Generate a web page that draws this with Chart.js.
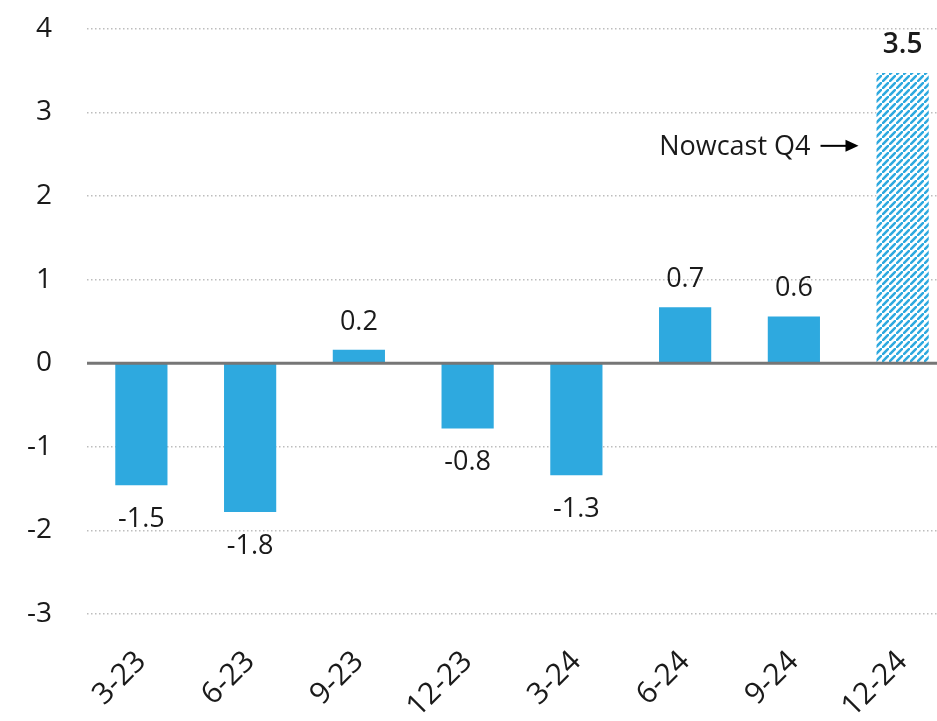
<!DOCTYPE html>
<html>
<head>
<meta charset="utf-8">
<script src="https://cdn.jsdelivr.net/npm/chart.js@4/dist/chart.umd.min.js"></script>
<style>
  html, body { margin: 0; padding: 0; background: #fff; overflow: hidden; }
  #wrap { width: 960px; height: 744px; margin-top: -23px; position: relative; }
</style>
</head>
<body>
<div id="wrap"><canvas id="gdpChart"></canvas></div>
<script>
// --- data ---
const categories = ['3-23', '6-23', '9-23', '12-23', '3-24', '6-24', '9-24', '12-24'];
const growth = [-1.46, -1.78, 0.16, -0.78, -1.34, 0.67, 0.56, 3.47];
const isNowcast = [false, false, false, false, false, false, false, true];
const yMin = -3;
const yMax = 4;
const nowcastText = 'Nowcast Q4';
const nowcastLevel = 2.6; // height of the annotation, in axis units

const BLUE = '#2EA9DF';
const FONT = "'Open Sans', 'Noto Sans', sans-serif";
const TEXT = '#1a1a1a';

// hatch fill for the nowcast bar
function makeHatch(color) {
    const size = 7;
    const c = document.createElement('canvas');
    c.width = size; c.height = size;
    const g = c.getContext('2d');
    g.fillStyle = '#fff';
    g.fillRect(0, 0, size, size);
    g.strokeStyle = color;
    g.lineWidth = 2.6;
    g.beginPath();
    g.moveTo(-1, size + 1); g.lineTo(size + 1, -1);
    g.moveTo(-size - 1, 1); g.lineTo(1, -size - 1);
    g.moveTo(size - 1, 2 * size + 1); g.lineTo(2 * size + 1, size - 1);
    g.stroke();
    return g.createPattern(c, 'repeat');
}
const hatch = makeHatch(BLUE);

// value labels + zero line + nowcast arrow
const extrasPlugin = {
    id: 'extras',
    afterDatasetsDraw(chart) {
        const ctx = chart.ctx;
        const y = chart.scales.y;
        const area = chart.chartArea;
        const meta = chart.getDatasetMeta(0);

        // zero line
        ctx.save();
        ctx.strokeStyle = '#767676';
        ctx.lineWidth = 3;
        ctx.beginPath();
        ctx.moveTo(area.left, y.getPixelForValue(0));
        ctx.lineTo(area.right, y.getPixelForValue(0));
        ctx.stroke();

        // value labels
        ctx.fillStyle = TEXT;
        ctx.textAlign = 'center';
        ctx.textBaseline = 'middle';
        meta.data.forEach((bar, i) => {
            const v = growth[i];
            ctx.font = (isNowcast[i] ? '600 28px ' : '27px ') + FONT;
            const ty = v >= 0 ? bar.y - 28 : bar.y + 34;
            ctx.fillText(v.toFixed(1), bar.x, ty);
        });

        // nowcast annotation
        const last = meta.data[meta.data.length - 1];
        const barLeft = last.x - last.width / 2;
        const ay = y.getPixelForValue(nowcastLevel);
        const arrowEnd = barLeft - 18;
        const arrowStart = arrowEnd - 38;
        ctx.strokeStyle = '#000';
        ctx.lineWidth = 2;
        ctx.beginPath();
        ctx.moveTo(arrowStart, ay);
        ctx.lineTo(arrowEnd - 8, ay);
        ctx.stroke();
        ctx.fillStyle = '#000';
        ctx.beginPath();
        ctx.moveTo(arrowEnd, ay);
        ctx.lineTo(arrowEnd - 13, ay - 6);
        ctx.lineTo(arrowEnd - 13, ay + 6);
        ctx.closePath();
        ctx.fill();
        ctx.fillStyle = TEXT;
        ctx.font = '27px ' + FONT;
        ctx.textAlign = 'right';
        ctx.fillText(nowcastText, arrowStart - 10, ay + 1);
        ctx.restore();
    }
};

new Chart(document.getElementById('gdpChart'), {
    type: 'bar',
    data: {
        labels: categories,
        datasets: [{
            data: growth,
            backgroundColor: growth.map((v, i) => isNowcast[i] ? hatch : BLUE),
            borderWidth: 0,
            barPercentage: 1,
            categoryPercentage: 0.48
        }]
    },
    options: {
        responsive: true,
        maintainAspectRatio: false,
        animation: false,
        layout: { padding: { top: 0, right: 3, left: 0, bottom: 0 } },
        plugins: { legend: { display: false }, tooltip: { enabled: false } },
        scales: {
            x: {
                grid: { display: false },
                border: { display: false },
                ticks: {
                    color: TEXT,
                    font: { family: FONT, size: 30 },
                    minRotation: 45,
                    maxRotation: 45,
                    padding: 22
                },
                afterFit(scale) { scale.height = 107; }
            },
            y: {
                min: yMin,
                max: yMax,
                grid: {
                    color: ctx => ctx.tick.value === 0 ? 'rgba(0,0,0,0)' : '#bdbdbd',
                    lineWidth: 1.5,
                    drawTicks: false
                },
                border: { display: false, dash: [1.5, 2.5] },
                ticks: {
                    stepSize: 1,
                    color: TEXT,
                    font: { family: FONT, size: 28 },
                    padding: 35
                },
                afterFit(scale) { scale.width = 87; }
            }
        }
    },
    plugins: [extrasPlugin]
});
</script>
</body>
</html>
